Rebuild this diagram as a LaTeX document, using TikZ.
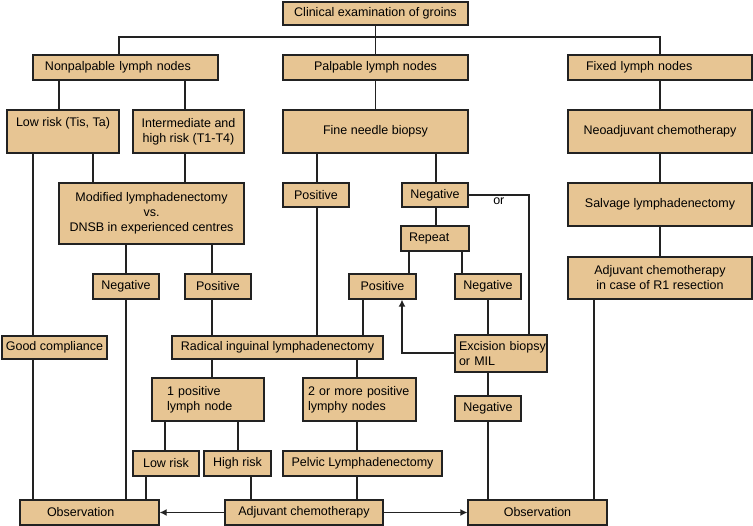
\documentclass[tikz,border=0pt]{standalone}
\usepackage{fontspec}
\setmainfont{Liberation Sans}
\usepackage{xcolor}
\usepackage{tikz}
\usetikzlibrary{arrows.meta}
\definecolor{groinfill}{HTML}{E7C593}
\definecolor{groinink}{HTML}{222222}

\begin{document}
\begin{tikzpicture}[
  x=1pt, y=-1pt,
  font=\fontsize{12.5}{15}\selectfont,
  box/.style={
    draw=groinink,
    fill=groinfill,
    line width=1.3pt,
    inner sep=0pt,
    align=center
  },
  sz/.style 2 args={minimum width=#1, minimum height=#2},
  lbox/.style 2 args={box, align=left, text width=#1, inner xsep=#2},
  link/.style={draw=groinink, line width=1.3pt},
  flow/.style={link, -{Latex[length=7pt, width=7pt]}}
]
\useasboundingbox (0,0) rectangle (753,526);

\node[box, sz={185}{23}] (clin) at (375.5,13.5) {Clinical examination of groins};

\node[lbox={161}{12}, sz={185}{25}] (nonpalp) at (125.5,67.5) {Nonpalpable lymph nodes};
\node[box, sz={185}{25}] (palp) at (375.5,67.5) {Palpable lymph nodes};
\node[lbox={148}{18}, sz={184}{25}] (fixed) at (660,67.5) {Fixed lymph nodes};

\node[box, sz={112}{43}] (lowrisk) at (63,131.5) {Low risk (Tis, Ta)\\\strut};
\node[box, sz={111}{43}] (interm) at (188.5,131.5) {Intermediate and\\high risk (T1-T4)};
\node[box, sz={185}{43}] (fnb) at (375.5,131.5) {Fine needle biopsy};
\node[box, sz={184}{43}] (neoadj) at (660,131.5) {Neoadjuvant chemotherapy};

\node[box, sz={185}{61}] (modif) at (151.5,213.5) {Modified lymphadenectomy\\vs.\\DNSB in experienced centres};
\node[box, sz={66}{24}] (fnbpos) at (316,195) {Positive};
\node[box, sz={66}{24}] (fnbneg) at (435,195) {Negative};
\node[box, sz={184}{43}] (salvage) at (660,204.5) {Salvage lymphadenectomy};

\node[lbox={52}{8}, sz={66}{25}] (repeat) at (435,238.5) {Repeat};
\node[box, sz={184}{42}] (adjr1) at (660,278) {Adjuvant chemotherapy\\in case of R1 resection};

\node[box, sz={66}{25}] (neg1) at (126,286.5) {Negative};
\node[box, sz={66}{25}] (pos1) at (218,286.5) {Positive};
\node[box, sz={67}{25}] (pos2) at (382.5,286.5) {Positive};
\node[box, sz={66}{25}] (neg2) at (488,286.5) {Negative};

\node[box, sz={105}{23}] (goodcomp) at (54.5,347.5) {Good compliance};
\node[box, sz={211}{23}] (radical) at (277.5,347.5) {Radical inguinal lymphadenectomy};
\node[lbox={84}{4}, sz={92}{37}] (excision) at (501,353.5) {Excision~biopsy\\or MIL};

\node[lbox={82}{15}, sz={112}{43}] (onepos) at (208,399.5) {1 positive\\lymph node};
\node[lbox={103}{5}, sz={113}{43}] (twopos) at (359.5,399.5) {2~or~more~positive\\lymphy nodes};
\node[box, sz={66}{25}] (negb) at (488,408.5) {Negative};

\node[box, sz={66}{25}] (lowr) at (166,463.5) {Low risk};
\node[box, sz={67}{25}] (highr) at (237.5,463.5) {High risk};
\node[box, sz={159}{25}] (pelvic) at (362.5,463.5) {Pelvic Lymphadenectomy};

\node[lbox={85}{27}, sz={139}{25}] (obsL) at (89.5,512.5) {Observation};
\node[box, sz={158}{25}] (adj) at (304,512.5) {Adjuvant chemotherapy};
\node[box, sz={139}{25}] (obsR) at (537.5,512.5) {Observation};

\coordinate (split) at (375.5,37);

\draw[link] (clin) -- (palp);
\draw[link] (nonpalp.north -| 119,0) |- (split) -| (fixed.north);
\draw[link] (nonpalp.south -| 59,0) -- (lowrisk.north -| 59,0);
\draw[link] (nonpalp.south -| 185,0) -- (interm.north -| 185,0);
\draw[link] (lowrisk.south -| 33,0) -- (goodcomp.north -| 33,0);
\draw[link] (goodcomp.south -| 33,0) -- (obsL.north -| 33,0);
\draw[link] (lowrisk.south -| 93,0) -- (modif.north -| 93,0);
\draw[link] (interm.south -| 185,0) -- (modif.north -| 185,0);
\draw[link] (palp) -- (fnb);
\draw[link] (fnb.south -| 317,0) -- (fnbpos.north -| 317,0);
\draw[link] (fnb.south -| 436,0) -- (fnbneg.north -| 436,0);
\draw[link] (fixed) -- (neoadj);
\draw[link] (neoadj) -- (salvage);
\draw[link] (salvage) -- (adjr1);
\draw[link] (modif.south -| 126,0) -- (neg1);
\draw[link] (modif.south -| 212,0) -- (pos1.north -| 212,0);
\draw[link] (neg1) -- (obsL.north -| 126,0);
\draw[link] (pos1.south -| 212,0) -- (radical.north -| 212,0);
\draw[link] (fnbpos.south -| 317,0) -- (radical.north -| 317,0);
\draw[link] (fnbneg.south -| 436,0) -- (repeat.north -| 436,0);
\draw[link] (fnbneg.east) -- (fnbneg.east -| 529,0) node[midway, below=1pt, inner sep=1pt] {or}
  -- (excision.north -| 529,0);
\draw[link] (repeat.south -| 409,0) -- (pos2.north -| 409,0);
\draw[link] (repeat.south -| 462,0) -- (neg2.north -| 462,0);
\draw[link] (pos2.south -| 363,0) -- (radical.north -| 363,0);
\draw[link] (neg2) -- (excision.north -| 488,0);
\draw[flow] (excision.west |- 0,353) -| (pos2.south -| 402,0);
\draw[link] (excision.south -| 488,0) -- (negb);
\draw[link] (negb) -- (obsR.north -| 488,0);
\draw[link] (radical.south -| 212,0) -- (onepos.north -| 212,0);
\draw[link] (radical.south -| 357,0) -- (twopos.north -| 357,0);
\draw[link] (onepos.south -| 165,0) -- (lowr.north -| 165,0);
\draw[link] (onepos.south -| 238,0) -- (highr.north -| 238,0);
\draw[link] (lowr.south -| 146,0) -- (obsL.north -| 146,0);
\draw[link] (highr.south -| 251,0) -- (adj.north -| 251,0);
\draw[link] (twopos.south -| 357,0) -- (pelvic.north -| 357,0);
\draw[link] (pelvic.south -| 357,0) -- (adj.north -| 357,0);
\draw[flow] (adj.west) -- (obsL.east);
\draw[flow] (adj.east) -- (obsR.west);
\draw[link] (adjr1.south -| 594,0) -- (obsR.north -| 594,0);

\end{tikzpicture}
\end{document}
